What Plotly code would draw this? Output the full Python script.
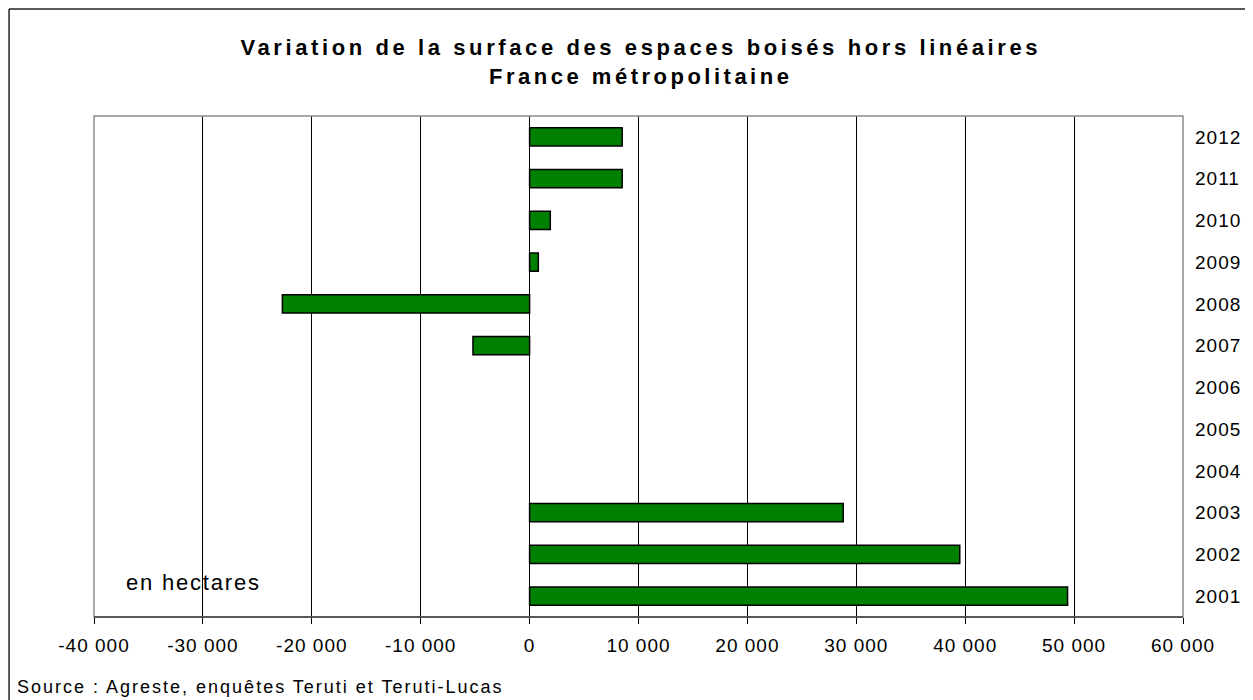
import plotly.graph_objects as go

# Data
years = ["2001", "2002", "2003", "2004", "2005", "2006",
         "2007", "2008", "2009", "2010", "2011", "2012"]
variation_ha = [49400, 39500, 28800, None, None, None,
                -5200, -22700, 800, 1900, 8500, 8500]
x_tick_vals = [-40000, -30000, -20000, -10000, 0, 10000, 20000, 30000, 40000, 50000, 60000]
x_tick_text = ["-40 000", "-30 000", "-20 000", "-10 000", "0", "10 000",
               "20 000", "30 000", "40 000", "50 000", "60 000"]

FONT = "Liberation Sans, Arial, sans-serif"


def spaced(txt, px):
    # the original chart uses a wide, loosely spaced Arial
    return f"<span style='letter-spacing:{px}px'>{txt}</span>"


fig = go.Figure()

fig.add_trace(
    go.Bar(
        x=variation_ha,
        y=years,
        orientation="h",
        marker=dict(color="#008000", line=dict(color="#000000", width=1.5)),
        showlegend=False,
        hoverinfo="x+y",
    )
)

fig.update_layout(
    width=1253,
    height=700,
    paper_bgcolor="white",
    plot_bgcolor="white",
    margin=dict(l=86, r=78, t=108, b=91),
    bargap=0.56,
    font=dict(family=FONT, size=19, color="black"),
    title=dict(
        text="<b>" + spaced("Variation de la surface des espaces boisés hors linéaires", 3.6)
             + "<br>" + spaced("France métropolitaine", 3.5) + "</b>",
        x=0.505,
        xanchor="center",
        y=0.933,
        yanchor="middle",
        font=dict(family=FONT, size=22, color="black"),
    ),
    xaxis=dict(
        range=[-40000, 60000],
        tickvals=x_tick_vals,
        ticktext=[spaced(t, 1) for t in x_tick_text],
        showgrid=True,
        gridcolor="black",
        gridwidth=1,
        zeroline=False,
        ticks="outside",
        ticklen=6,
        tickcolor="black",
        ticklabelstandoff=5,
        showline=False,
        tickfont=dict(size=19),
        fixedrange=True,
    ),
    yaxis=dict(
        type="category",
        categoryorder="array",
        categoryarray=years,
        tickvals=years,
        ticktext=[spaced(y, 1) for y in years],
        side="right",
        showgrid=False,
        zeroline=False,
        ticks="",
        ticklabelstandoff=11,
        showline=False,
        tickfont=dict(size=19),
        fixedrange=True,
    ),
    shapes=[
        # plot area frame
        dict(type="rect", xref="paper", yref="paper", x0=0, x1=1, y0=0, y1=1,
             line=dict(color="#8c8c8c", width=1.5), layer="above"),
        # bottom axis line
        dict(type="line", xref="paper", yref="paper", x0=0, x1=1, y0=0, y1=0,
             line=dict(color="#404040", width=1.5), layer="above"),
        # outer chart border (left and top visible)
        dict(type="line", xref="paper", yref="paper", x0=-0.078, x1=-0.078, y0=-0.3, y1=1.2136,
             line=dict(color="#222222", width=1.5)),
        dict(type="line", xref="paper", yref="paper", x0=-0.078, x1=1.2, y0=1.2136, y1=1.2136,
             line=dict(color="#222222", width=1.5)),
    ],
    annotations=[
        dict(text=spaced("en hectares", 1.8), xref="paper", yref="paper", x=0.0914, y=0.068,
             xanchor="center", yanchor="middle", showarrow=False,
             font=dict(family=FONT, size=22, color="black")),
        dict(text=spaced("Source : Agreste, enquêtes Teruti et Teruti-Lucas", 2),
             xref="paper", yref="paper", x=-0.0725, y=-0.1397, xanchor="left", yanchor="middle",
             showarrow=False, font=dict(family=FONT, size=18, color="black")),
    ],
)

fig.write_html("out.html")
